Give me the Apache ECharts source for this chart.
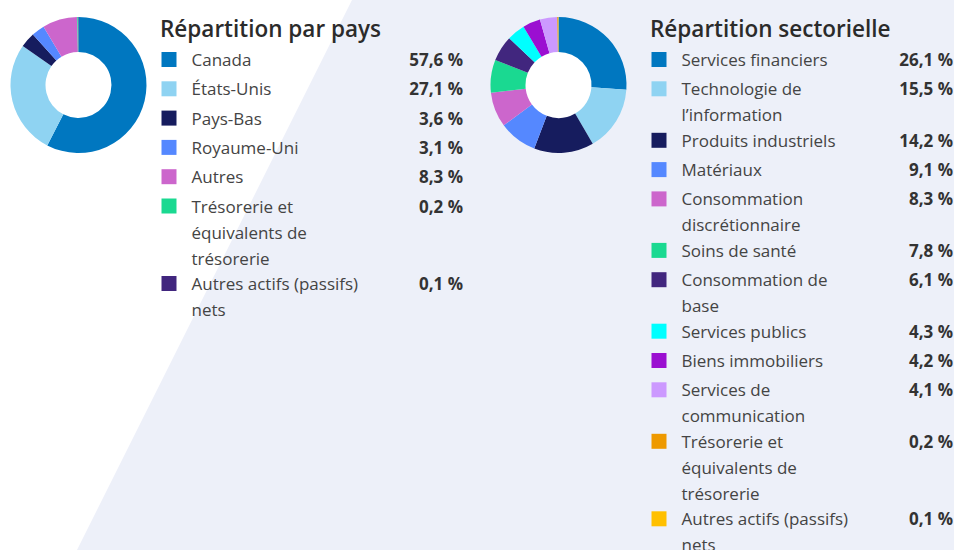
<!DOCTYPE html>
<html>
<head>
<meta charset="utf-8">
<script src="https://cdn.jsdelivr.net/npm/echarts@6/dist/echarts.min.js"></script>
<style>
  html, body { margin: 0; padding: 0; background: #fff; }
  #chart { width: 954px; height: 550px; }
</style>
</head>
<body>
<div id="chart"></div>
<script>
  'use strict'
  /* data */
  var paysTitre = 'Répartition par pays';
  var paysNoms = ['Canada', 'États-Unis', 'Pays-Bas', 'Royaume-Uni', 'Autres',
    'Trésorerie et\néquivalents de\ntrésorerie', 'Autres actifs (passifs)\nnets'];
  var paysValeurs = [57.6, 27.1, 3.6, 3.1, 8.3, 0.2, 0.1];
  var paysCouleurs = ['#0077c0', '#8fd3f2', '#161c5e', '#5588ff', '#cc66cc', '#1ad991', '#41267e'];

  var secteurTitre = 'Répartition sectorielle';
  var secteurNoms = ['Services financiers', 'Technologie de\nl\u2019information', 'Produits industriels',
    'Matériaux', 'Consommation\ndiscrétionnaire', 'Soins de santé', 'Consommation de\nbase',
    'Services publics', 'Biens immobiliers', 'Services de\ncommunication',
    'Trésorerie et\néquivalents de\ntrésorerie', 'Autres actifs (passifs)\nnets'];
  var secteurValeurs = [26.1, 15.5, 14.2, 9.1, 8.3, 7.8, 6.1, 4.3, 4.2, 4.1, 0.2, 0.1];
  var secteurCouleurs = ['#0077c0', '#8fd3f2', '#161c5e', '#5588ff', '#cc66cc', '#1ad991', '#41267e',
    '#00ffff', '#9b0fd1', '#cc99ff', '#ee9900', '#ffc000'];

  var police = '"Open Sans", Lato, sans-serif';

  function fmt(v) {
    return v.toFixed(1).replace('.', ',') + ' %';
  }

  function donut(noms, valeurs, couleurs, cx) {
    return [{
      type: 'pie',
      silent: true,
      center: [cx, 85],
      radius: [0, 34],
      label: { show: false },
      itemStyle: { color: '#fff' },
      data: [1],
      z: 1
    }, {
      type: 'pie',
      center: [cx, 85],
      radius: [33, 68],
      startAngle: 90,
      clockwise: true,
      avoidLabelOverlap: false,
      label: { show: false },
      labelLine: { show: false },
      emphasis: { disabled: true },
      itemStyle: { borderWidth: 0 },
      data: noms.map(function (n, i) {
        return { name: n, value: valeurs[i], itemStyle: { color: couleurs[i] } };
      }),
      z: 2
    }];
  }

  /* legend built from the arrays */
  function legende(titre, noms, valeurs, couleurs, x0, xFin) {
    var els = [{
      type: 'text', left: x0, top: 17,
      style: { text: titre, font: '600 22.5px ' + police, fill: '#2b2b2b' }
    }];
    var y = 59.5;
    noms.forEach(function (n, i) {
      var lignes = n.split('\n').length;
      els.push({
        type: 'rect',
        shape: { x: x0 + 1.5, y: y - 7.5, width: 15, height: 15 },
        style: { fill: couleurs[i] }
      });
      els.push({
        type: 'text', x: x0 + 31.5, y: y,
        style: { text: n, font: '17px ' + police, fill: '#444', lineHeight: 26,
          verticalAlign: 'top', y: -13 }
      });
      els.push({
        type: 'text', x: xFin, y: y,
        style: { text: fmt(valeurs[i]), font: 'bold 17px ' + police, fill: '#333',
          align: 'right', verticalAlign: 'middle' }
      });
      y += Math.max(29.3, 26 * lignes - 0.5);
    });
    return els;
  }

  var chart = echarts.init(document.getElementById('chart'), null, { renderer: 'svg' });
  var option = {
    backgroundColor: '#fff',
    animation: false,
    graphic: [{
      type: 'polygon', z: -10, silent: true,
      shape: { points: [[352, 0], [954, 0], [954, 550], [77, 550]] },
      style: { fill: '#edf0f9' }
    }].concat(
      legende(paysTitre, paysNoms, paysValeurs, paysCouleurs, 160, 463),
      legende(secteurTitre, secteurNoms, secteurValeurs, secteurCouleurs, 650, 953)
    ),
    series: donut(paysNoms, paysValeurs, paysCouleurs, 78.5)
      .concat(donut(secteurNoms, secteurValeurs, secteurCouleurs, 558.5))
  };
  chart.setOption(option);
</script>
</body>
</html>
